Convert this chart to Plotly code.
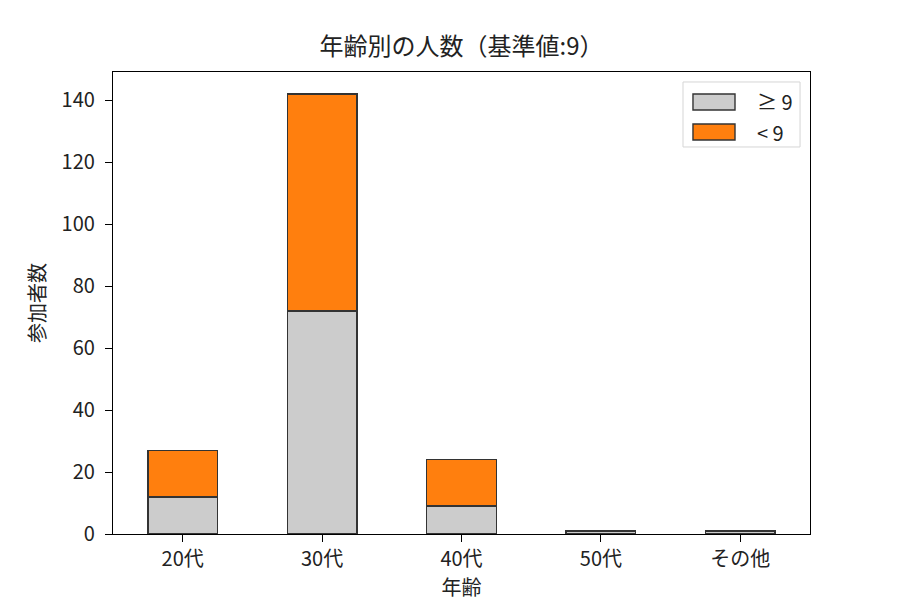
import plotly.graph_objects as go

categories = ["20代", "30代", "40代", "50代", "その他"]
ge9 = [12, 72, 9, 1, 1]
lt9 = [15, 70, 15, 0, 0]
labels = ["≥ 9", "< 9"]
colors = ["#cccccc", "#ff7f0e"]
EDGE = "#333333"

FONT = "Noto Sans CJK JP, DejaVu Sans, sans-serif"
FS = 20

fig = go.Figure()
for vals, name, col in zip([ge9, lt9], labels, colors):
    fig.add_trace(go.Bar(x=categories, y=vals, name=name, width=0.5, showlegend=False,
                         marker=dict(color=col, line=dict(color=EDGE, width=1.4))))

# custom legend (matplotlib-like rectangular patches), in paper coordinates
shapes = [dict(type="rect", xref="paper", yref="paper", x0=0.8178, x1=0.9857, y0=0.8377, y1=0.9784,
               line=dict(color="#d5d5d5", width=1), fillcolor="rgba(255,255,255,0.8)", layer="above")]
annotations = []
row_y = [0.9351, 0.8701]
for i, (name, col) in enumerate(zip(labels, colors)):
    yc = row_y[i]
    shapes.append(dict(type="rect", xref="paper", yref="paper", x0=0.8321, x1=0.8924,
                       y0=yc - 0.0173, y1=yc + 0.0173, fillcolor=col,
                       line=dict(color=EDGE, width=1.4), layer="above"))
    annotations.append(dict(text=name, xref="paper", yref="paper", x=0.9211, y=yc,
                            xanchor="left", yanchor="middle", showarrow=False,
                            font=dict(size=FS, color="#222222")))

fig.update_layout(
    barmode="stack",
    width=900, height=600,
    margin=dict(l=105, r=98, t=64, b=74),
    paper_bgcolor="white", plot_bgcolor="white",
    font=dict(family=FONT, size=FS, color="#222222"),
    title=dict(text="年齢別の人数（基準値:9）", x=0.5, xref="paper", xanchor="center",
               y=0.935, yanchor="middle", font=dict(size=24)),
    showlegend=False,
    shapes=shapes,
    annotations=annotations,
)
fig.update_xaxes(title=dict(text="年齢", standoff=0, font=dict(size=FS)), range=[-0.5, 4.5],
                 showline=True, linecolor="black", linewidth=1.3, mirror=True,
                 ticks="outside", ticklen=7, tickcolor="black", showgrid=False,
                 tickfont=dict(size=FS))
fig.update_yaxes(title=dict(text="参加者数", standoff=10, font=dict(size=FS)), range=[0, 149.1],
                 showline=True, linecolor="black", linewidth=1.3, mirror=True,
                 ticks="outside", ticklen=7, tickcolor="black", showgrid=False,
                 dtick=20, zeroline=False, tickfont=dict(size=FS), ticklabelstandoff=6)

fig.write_html("out.html")
